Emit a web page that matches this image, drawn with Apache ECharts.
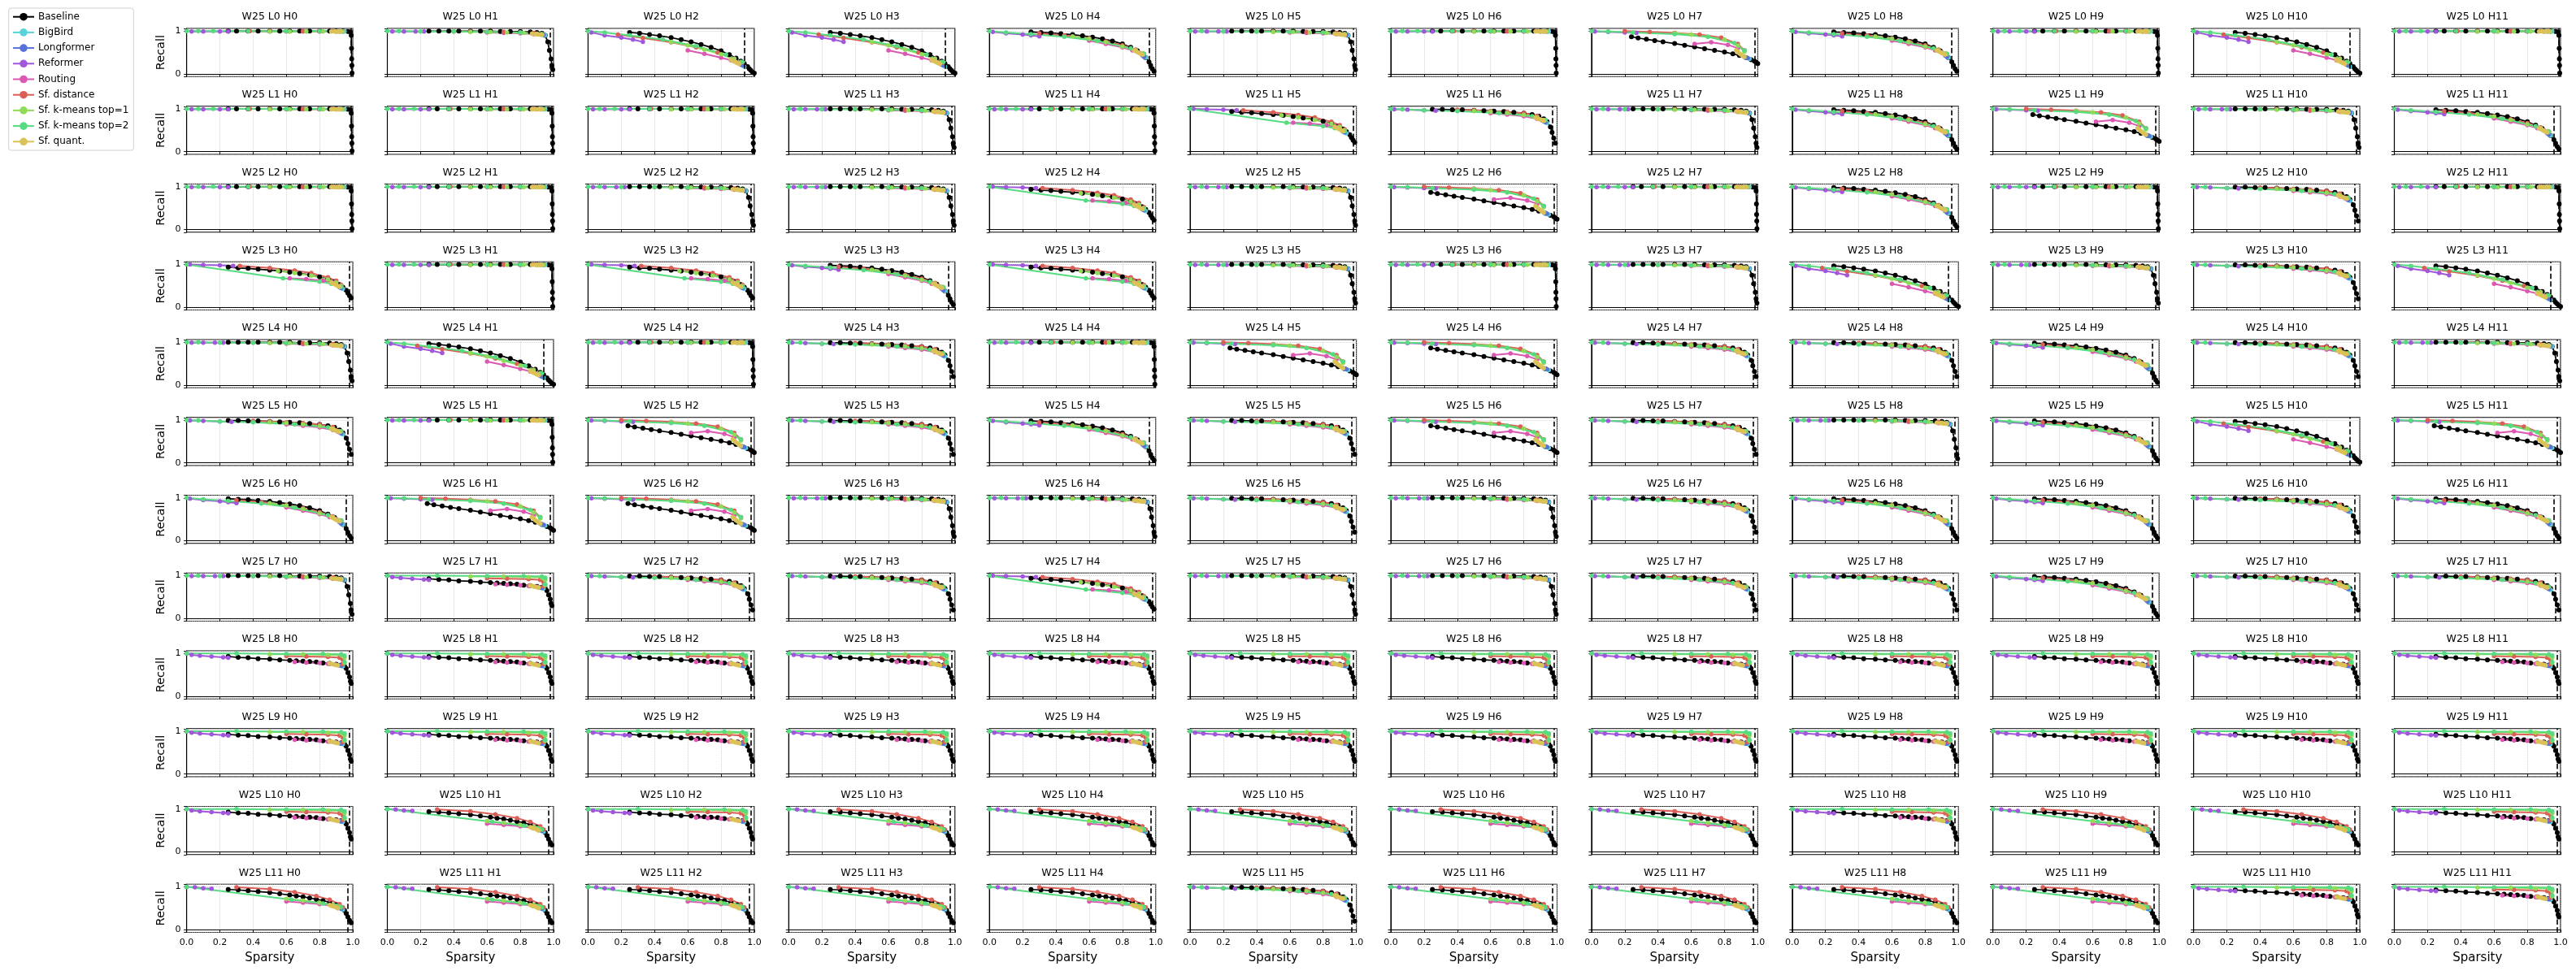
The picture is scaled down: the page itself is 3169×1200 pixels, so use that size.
<!DOCTYPE html>
<html>
<head>
<meta charset="utf-8">
<script src="https://cdn.jsdelivr.net/npm/echarts@6/dist/echarts.min.js"></script>
<style>
html,body{margin:0;padding:0;background:#fff}
#main{width:3169px;height:1200px}
</style>
</head>
<body>
<div id="main"></div>
<script>
var methods = ['Baseline','BigBird','Longformer','Reformer','Routing','Sf. distance','Sf. k-means top=1','Sf. k-means top=2','Sf. quant.'];
var colors = ['#000000','#57d3db','#5770db','#a157db','#db57b2','#db5f57','#91db57','#57db80','#dbc257'];
var layers = ['L0','L1','L2','L3','L4','L5','L6','L7','L8','L9','L10','L11'];
var heads = ['H0','H1','H2','H3','H4','H5','H6','H7','H8','H9','H10','H11'];
var yTicks = [0, 1];

// curve shapes, one per family of similar-looking heads
// order inside each: Baseline, BigBird, Longformer, Reformer, Routing, distance, top=1, top=2, quant
var flat = [
  [[0.25,1],[0.3,1],[0.37,1],[0.43,1],[0.5,1],[0.56,1],[0.62,1],[0.68,1],[0.74,1],[0.8,1],[0.86,1],[0.9,1],[0.94,1],[0.97,0.99],[0.985,0.98],[0.99,0.9],[0.992,0.6],[0.993,0.35],[0.994,0.2],[0.995,0.02]],
  [[0.93,0.99],[0.95,0.99]],
  [[0.92,0.99],[0.94,0.99]],
  [[0.03,0.99],[0.1,0.99],[0.2,0.99],[0.25,0.99]],
  [[0.6,0.99],[0.7,0.99],[0.8,0.99],[0.9,0.99]],
  [[0.38,1],[0.5,1],[0.6,1],[0.7,1],[0.8,1],[0.88,1],[0.93,1]],
  [[0.5,0.99],[0.62,0.99],[0.72,0.99],[0.82,0.99],[0.9,0.99],[0.94,0.99]],
  [[0,1],[0.07,1],[0.16,1],[0.37,1],[0.6,1],[0.8,1],[0.93,1]],
  [[0.87,0.99],[0.89,0.99],[0.9,0.99],[0.91,0.99],[0.92,0.99],[0.93,0.99]]
];
var flatSoft = [
  [[0.25,1],[0.31,1],[0.37,1],[0.43,1],[0.5,1],[0.56,1],[0.62,1],[0.68,0.99],[0.74,0.99],[0.8,0.99],[0.86,0.98],[0.9,0.97],[0.93,0.95],[0.95,0.9],[0.965,0.75],[0.975,0.55],[0.985,0.35],[0.99,0.2],[0.995,0.1]],
  [[0.93,0.92],[0.95,0.9]],
  [[0.92,0.92],[0.94,0.91]],
  [[0.03,0.99],[0.1,0.99],[0.17,0.99],[0.22,0.99]],
  [[0.6,0.97],[0.7,0.96],[0.8,0.95],[0.88,0.93]],
  [[0.4,0.99],[0.5,0.99],[0.6,0.98],[0.7,0.98],[0.8,0.97],[0.88,0.96],[0.93,0.93]],
  [[0.5,0.98],[0.62,0.98],[0.72,0.97],[0.82,0.96],[0.9,0.94],[0.93,0.92]],
  [[0,1],[0.07,1],[0.2,0.99],[0.4,0.99],[0.6,0.98],[0.8,0.97],[0.93,0.93]],
  [[0.87,0.94],[0.89,0.93],[0.9,0.93],[0.91,0.92],[0.92,0.92],[0.93,0.91]]
];
var mild = [
  [[0.25,0.99],[0.31,0.99],[0.37,0.98],[0.43,0.98],[0.5,0.97],[0.56,0.96],[0.62,0.95],[0.68,0.94],[0.74,0.92],[0.8,0.9],[0.85,0.87],[0.89,0.83],[0.92,0.77],[0.94,0.7],[0.96,0.58],[0.97,0.45],[0.98,0.32],[0.99,0.2]],
  [[0.93,0.7],[0.94,0.67]],
  [[0.92,0.71],[0.93,0.69]],
  [[0.02,0.99],[0.1,0.98],[0.2,0.97],[0.27,0.96]],
  [[0.6,0.9],[0.7,0.87],[0.8,0.83],[0.88,0.77],[0.91,0.73]],
  [[0.4,0.98],[0.5,0.97],[0.6,0.95],[0.7,0.93],[0.8,0.9],[0.88,0.84],[0.93,0.74]],
  [[0.5,0.95],[0.6,0.93],[0.7,0.9],[0.8,0.86],[0.88,0.8],[0.92,0.74]],
  [[0,1],[0.07,0.99],[0.2,0.97],[0.4,0.95],[0.65,0.9],[0.85,0.83],[0.93,0.74]],
  [[0.87,0.8],[0.88,0.78],[0.89,0.77],[0.9,0.75],[0.91,0.74],[0.92,0.72]]
];
var medium = [
  [[0.25,0.98],[0.31,0.97],[0.37,0.96],[0.43,0.94],[0.5,0.92],[0.56,0.89],[0.62,0.86],[0.68,0.82],[0.74,0.77],[0.8,0.7],[0.85,0.62],[0.89,0.54],[0.92,0.46],[0.94,0.38],[0.96,0.28],[0.97,0.2],[0.98,0.12],[0.99,0.06]],
  [[0.93,0.42],[0.94,0.38]],
  [[0.92,0.43],[0.93,0.4]],
  [[0.02,0.98],[0.1,0.95],[0.2,0.92],[0.25,0.9],[0.3,0.88]],
  [[0.6,0.78],[0.7,0.7],[0.8,0.62],[0.86,0.55],[0.9,0.5]],
  [[0.3,0.95],[0.45,0.9],[0.6,0.83],[0.7,0.76],[0.8,0.67],[0.88,0.57],[0.93,0.47]],
  [[0.5,0.88],[0.6,0.82],[0.7,0.74],[0.8,0.64],[0.88,0.55],[0.92,0.48]],
  [[0,1],[0.1,0.97],[0.25,0.93],[0.45,0.87],[0.65,0.77],[0.85,0.6],[0.93,0.47]],
  [[0.87,0.55],[0.88,0.53],[0.89,0.51],[0.9,0.49],[0.91,0.47],[0.92,0.45]]
];
var strong = [
  [[0.25,0.97],[0.31,0.95],[0.37,0.92],[0.43,0.89],[0.5,0.85],[0.56,0.8],[0.62,0.75],[0.68,0.69],[0.74,0.62],[0.8,0.54],[0.85,0.45],[0.89,0.37],[0.92,0.3],[0.94,0.24],[0.96,0.17],[0.97,0.12],[0.98,0.08],[0.99,0.04],[1.0,0.02]],
  [[0.93,0.2],[0.94,0.17]],
  [[0.92,0.22],[0.93,0.2]],
  [[0.02,0.97],[0.1,0.9],[0.2,0.85],[0.27,0.8],[0.33,0.75]],
  [[0.6,0.55],[0.7,0.47],[0.8,0.38],[0.86,0.32],[0.9,0.27]],
  [[0.18,0.92],[0.33,0.84],[0.5,0.74],[0.65,0.62],[0.78,0.5],[0.88,0.36],[0.93,0.27]],
  [[0.5,0.75],[0.6,0.67],[0.7,0.57],[0.8,0.46],[0.88,0.35],[0.92,0.28]],
  [[0,1],[0.1,0.97],[0.25,0.9],[0.45,0.8],[0.65,0.65],[0.83,0.45],[0.93,0.28]],
  [[0.86,0.33],[0.87,0.31],[0.88,0.29],[0.89,0.27],[0.9,0.25],[0.91,0.23]]
];
var below = [
  [[0.24,0.87],[0.28,0.84],[0.33,0.81],[0.38,0.78],[0.43,0.75],[0.5,0.71],[0.56,0.67],[0.62,0.63],[0.68,0.59],[0.74,0.55],[0.8,0.51],[0.85,0.47],[0.89,0.43],[0.93,0.38],[0.96,0.33],[0.98,0.3],[0.99,0.27],[1.0,0.24]],
  [[0.93,0.38],[0.95,0.35]],
  [[0.92,0.4],[0.94,0.37]],
  [[0.02,0.99],[0.1,0.98],[0.2,0.97],[0.27,0.96]],
  [[0.62,0.7],[0.72,0.74],[0.82,0.68],[0.88,0.6]],
  [[0.2,1.0],[0.35,0.98],[0.5,0.96],[0.65,0.92],[0.78,0.85],[0.88,0.7],[0.92,0.55]],
  [[0.5,0.95],[0.6,0.92],[0.7,0.87],[0.8,0.8],[0.88,0.66],[0.92,0.52]],
  [[0,1],[0.1,0.99],[0.25,0.97],[0.5,0.93],[0.7,0.87],[0.86,0.72],[0.92,0.55]],
  [[0.87,0.55],[0.88,0.52],[0.89,0.48],[0.9,0.45],[0.91,0.42],[0.92,0.4]]
];
var greenLow = [
  [[0.25,0.94],[0.31,0.92],[0.37,0.91],[0.43,0.89],[0.5,0.87],[0.56,0.85],[0.62,0.82],[0.68,0.79],[0.74,0.76],[0.8,0.71],[0.85,0.66],[0.89,0.6],[0.92,0.53],[0.94,0.47],[0.96,0.4],[0.97,0.33],[0.98,0.27],[0.99,0.22]],
  [[0.93,0.46],[0.94,0.43]],
  [[0.92,0.47],[0.93,0.45]],
  [[0.02,1.0],[0.1,0.99],[0.2,0.98],[0.28,0.97]],
  [[0.62,0.68],[0.72,0.66],[0.82,0.62],[0.88,0.58]],
  [[0.32,0.97],[0.5,0.92],[0.65,0.86],[0.75,0.8],[0.85,0.7],[0.9,0.62],[0.93,0.52]],
  [[0.55,0.85],[0.65,0.8],[0.75,0.74],[0.85,0.65],[0.9,0.58],[0.93,0.5]],
  [[0,1],[0.58,0.68],[0.8,0.6],[0.87,0.55],[0.93,0.48]],
  [[0.87,0.58],[0.88,0.56],[0.89,0.54],[0.9,0.52],[0.91,0.5],[0.92,0.48]]
];
var deep = [
  [[0.25,0.93],[0.31,0.91],[0.37,0.9],[0.43,0.88],[0.5,0.87],[0.56,0.85],[0.62,0.84],[0.66,0.83],[0.7,0.82],[0.74,0.81],[0.78,0.8],[0.82,0.78],[0.86,0.77],[0.9,0.75],[0.93,0.73],[0.95,0.7],[0.96,0.65],[0.97,0.55],[0.98,0.45],[0.985,0.35],[0.99,0.3]],
  [[0.93,0.71],[0.94,0.7]],
  [[0.92,0.72],[0.93,0.71]],
  [[0.0,1.0],[0.03,0.97],[0.08,0.95],[0.15,0.93],[0.22,0.91],[0.25,0.9]],
  [[0.65,0.8],[0.72,0.79],[0.8,0.78],[0.85,0.76],[0.9,0.74]],
  [[0.6,0.94],[0.72,0.93],[0.85,0.92],[0.92,0.9],[0.94,0.85],[0.94,0.75]],
  [[0.5,0.98],[0.7,0.98],[0.85,0.97],[0.93,0.96],[0.95,0.9],[0.95,0.78]],
  [[0,1],[0.3,1],[0.6,0.99],[0.82,0.99],[0.93,0.98],[0.95,0.95],[0.95,0.8]],
  [[0.86,0.77],[0.87,0.76],[0.88,0.75],[0.89,0.74],[0.9,0.73],[0.91,0.72]]
];
var lateDecline = [
  [[0.25,0.94],[0.31,0.93],[0.37,0.91],[0.43,0.89],[0.5,0.87],[0.56,0.84],[0.62,0.81],[0.66,0.79],[0.7,0.77],[0.74,0.74],[0.78,0.71],[0.82,0.68],[0.86,0.64],[0.9,0.58],[0.93,0.52],[0.95,0.45],[0.96,0.38],[0.97,0.3],[0.98,0.22],[0.99,0.16]],
  [[0.93,0.5],[0.94,0.47]],
  [[0.92,0.51],[0.93,0.49]],
  [[0.0,1.0],[0.05,0.99],[0.1,0.97],[0.15,0.96]],
  [[0.6,0.66],[0.7,0.63],[0.8,0.6],[0.88,0.56],[0.91,0.53]],
  [[0.3,0.99],[0.5,0.95],[0.65,0.88],[0.78,0.79],[0.86,0.7],[0.92,0.6],[0.94,0.52]],
  [[0.6,0.72],[0.7,0.68],[0.8,0.63],[0.88,0.58],[0.92,0.54]],
  [[0,1],[0.63,0.7],[0.82,0.61],[0.9,0.56],[0.93,0.52]],
  [[0.86,0.58],[0.87,0.56],[0.88,0.55],[0.89,0.54],[0.9,0.52],[0.91,0.5]]
];

var profileIds = ['F','f','M','N','C','B','G','D','E'];
var profiles = [flat, flatSoft, mild, medium, strong, below, greenLow, deep, lateDecline];
var profileDash = [0.99, 0.985, 0.975, 0.965, 0.94, 0.985, 0.985, 0.985, 0.97];

// which shape each head looks like, one string per layer
var panelShape = [
  'FfCCNfFBNFCF',
  'FFFfFGMfNBfN',
  'FFffGfBFNFMF',
  'GFGNGfFfCfMC',
  'fCFMFBBMMNMf',
  'MFBMNMBMfNCB',
  'NBBffMfMNNMN',
  'fDMMGffMMNMM',
  'DDDDDDDDDDDD',
  'DDDDDDDDDDDD',
  'DEDEEEEEDEED',
  'EEEEEMEEEEDD'
];

var font = 'DejaVu Sans';

function yLabel(v) {
  for (var i = 0; i < yTicks.length; i++) {
    if (Math.abs(v - yTicks[i]) < 1e-6) return String(yTicks[i]);
  }
  return '';
}

// axisText: false -> y labels / name left off the axes (drawn afterwards as graphic text)
function buildOption(axisText) {
  var grids = [], xAxes = [], yAxes = [], titles = [], series = [];
  for (var r = 0; r < 12; r++) {
    for (var c = 0; c < 12; c++) {
      var idx = r * 12 + c;
      var left = 229.6 + 246.9 * c;
      var top = 35 + 95.75 * r;
      var w = 204.5, h = 59.3;
      var p = profileIds.indexOf(panelShape[r].charAt(c));
      var prof = profiles[p];

      grids.push({left:left, top:top, width:w, height:h, show:true, borderColor:'#000', borderWidth:1.1});
      titles.push({
        text:'W25 ' + layers[r] + ' ' + heads[c],
        left:left + w / 2, top:top - 20.5, textAlign:'center', padding:0,
        textStyle:{fontSize:12.5, fontWeight:'normal', color:'#000', fontFamily:font}
      });
      xAxes.push({
        gridIndex:idx, type:'value', min:0, max:1, interval:0.2,
        axisLine:{show:true, lineStyle:{color:'#000', width:1.1}},
        axisTick:{show:true, length:3.5, lineStyle:{color:'#000', width:0.9}},
        axisLabel:{show:r == 11, fontSize:11, color:'#000', margin:7, fontFamily:font,
          formatter:function (v) { return (+v).toFixed(1); }},
        splitLine:{show:true, lineStyle:{type:'dotted', color:'#c8c8c8', width:0.8}},
        name:r == 11 ? 'Sparsity' : '', nameLocation:'middle', nameGap:24,
        nameTextStyle:{fontSize:15, color:'#000', fontFamily:font}
      });
      var showY = axisText && c == 0;
      // one split over the padded range gives ticks at 0 and 1
      yAxes.push({
        gridIndex:idx, type:'value', min:-0.063, max:1.063, splitNumber:1,
        nameMoveOverlap:false,
        axisLine:{show:true, lineStyle:{color:'#000', width:1.1}},
        axisTick:{show:true, length:3.5, lineStyle:{color:'#000', width:0.9}},
        axisLabel:{show:showY, fontSize:11, color:'#000', margin:7, fontFamily:font,
          formatter:yLabel, showMinLabel:true, showMaxLabel:true, hideOverlap:false},
        splitLine:{show:true, lineStyle:{type:'dotted', color:'#c8c8c8', width:0.8}},
        name:showY ? 'Recall' : '', nameLocation:'middle', nameGap:24,
        nameTextStyle:{fontSize:14.5, color:'#000', fontFamily:font}
      });
      for (var m = 0; m < methods.length; m++) {
        var pts = [];
        for (var k = 0; k < prof[m].length; k++) pts.push([prof[m][k][0], prof[m][k][1]]);
        var s = {
          type:'line', name:methods[m], xAxisIndex:idx, yAxisIndex:idx,
          data:pts, symbol:'circle', symbolSize:m == 0 ? 6 : 5.5, showSymbol:true,
          lineStyle:{color:colors[m], width:m == 0 ? 1.7 : 2},
          itemStyle:{color:colors[m]},
          silent:true, animation:false
        };
        //dashed line on top of the last method
        if (m == methods.length - 1) {
          s.markLine = {
            silent:true, symbol:['none','none'], animation:false,
            label:{show:false},
            lineStyle:{color:'#000', type:'dashed', width:1.6},
            data:[{xAxis:profileDash[p]}]
          };
        }
        series.push(s);
      }
    }
  }
  return {
    backgroundColor:'#fff',
    animation:false,
    title:titles,
    legend:{
      data:methods.slice(), orient:'vertical', left:10.7, top:10,
      padding:[4.7,6,4.7,4.3], itemWidth:26, itemHeight:12, itemGap:7.2,
      textStyle:{fontSize:12, color:'#000', fontFamily:font},
      borderColor:'#d0d0d0', borderWidth:1, borderRadius:3, backgroundColor:'#fff',
      selectedMode:false
    },
    grid:grids, xAxis:xAxes, yAxis:yAxes, series:series
  };
}

var el = document.getElementById('main');
var chart = echarts.init(el);
try {
  chart.setOption(buildOption(true));
} catch (e) {
  chart.dispose();
  chart = echarts.init(el);
  chart.setOption(buildOption(false));
  // put the first-column labels back, placed through each grid's own scale
  var texts = [];
  for (var r = 0; r < 12; r++) {
    var gi = r * 12;
    for (var t = 0; t < yTicks.length; t++) {
      var pt = chart.convertToPixel({gridIndex:gi}, [0, yTicks[t]]);
      texts.push({type:'text', x:pt[0] - 7.5, y:pt[1], silent:true,
        style:{text:String(yTicks[t]), fill:'#000', font:'11px "DejaVu Sans"', align:'right', verticalAlign:'middle'}});
    }
    var a = chart.convertToPixel({gridIndex:gi}, [0, 1.063]);
    var b = chart.convertToPixel({gridIndex:gi}, [0, -0.063]);
    texts.push({type:'text', x:a[0] - 31, y:(a[1] + b[1]) / 2, rotation:Math.PI / 2, silent:true,
      style:{text:'Recall', fill:'#000', font:'14.5px "DejaVu Sans"', align:'center', verticalAlign:'middle'}});
  }
  chart.setOption({graphic:texts});
}
</script>
</body>
</html>
